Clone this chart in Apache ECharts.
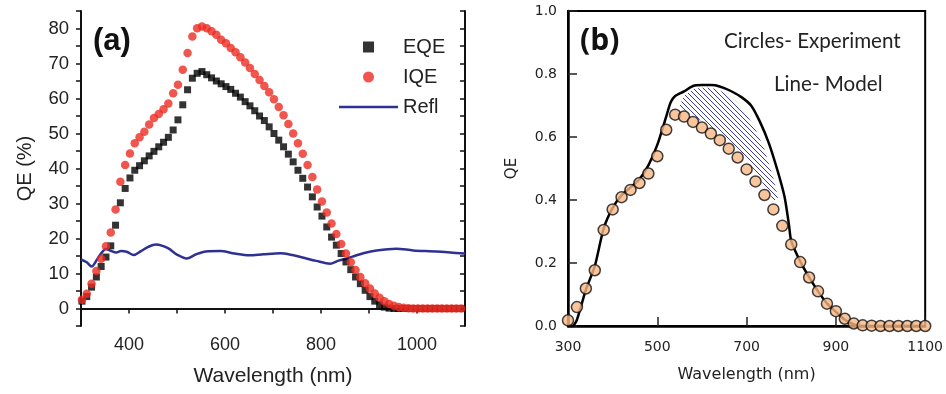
<!DOCTYPE html>
<html><head><meta charset="utf-8">
<script src="https://cdn.jsdelivr.net/npm/echarts@6/dist/echarts.min.js"></script>
<style>html,body{margin:0;padding:0;background:#fff}#c{width:946px;height:394px}</style>
</head><body><div id="c"></div>
<script>
// ---------- Panel (a) ----------
const wavelengthA = [302,312,322,332,342,352,362,372,382,392,402,412,422,432,442,452,462,472,482,492,
  502,512,522,532,542,552,562,572,582,592,602,612,622,632,642,652,662,672,682,692,
  702,712,722,732,742,752,762,772,782,792,802,812,822,832,842,852,862,872,882,892,
  902,912,922,932,942,952,962,972,982,992,1002,1012,1022,1032,1042,1052,1062,1072,1082,1092];
const eqe = [2.1,3.4,6.1,9.0,12.0,14.7,17.9,23.8,30.2,34.3,
  37.3,39.5,40.8,42.2,43.6,44.9,46.2,47.5,48.9,51.0,
  53.9,58.2,62.5,65.8,67.2,67.7,66.8,65.9,65.0,64.2,
  63.4,62.6,61.5,60.4,59.1,57.9,56.5,55.0,53.7,51.9,
  50.0,48.1,46.2,44.1,41.9,39.5,37.2,34.7,31.9,29.0,
  26.4,23.3,20.4,18.1,15.7,13.3,11.1,9.0,7.1,5.2,
  3.4,2.1,1.1,0.4,0.1,0,0,0,0,0,
  0,0,0,0,0,0,0,0,0,0];
const iqe = [2.5,4.2,7.1,10.7,14.2,17.8,21.7,28.3,36.2,41.0,
  44.3,47.2,48.9,50.5,52.6,54.4,55.6,56.9,58.6,61.5,
  63.9,68.2,73.0,77.7,80.1,80.6,80.1,79.2,78.2,76.8,
  75.8,74.4,73.2,71.8,70.3,68.7,67.0,65.3,63.6,61.8,
  59.8,57.6,55.2,52.7,50.0,47.2,44.2,41.0,37.6,34.0,
  30.6,27.4,24.3,21.3,18.4,15.7,13.2,11.0,9.0,7.2,
  5.7,4.3,3.1,2.1,1.3,0.8,0.4,0.2,0.1,0,
  0,0,0,0,0,0,0,0,0,0];
const reflX = [300,312,322,337,352,362,373,383,395,410,425,440,456,470,483,500,520,540,560,590,620,650,680,715,740,764,790,819,835,854,870,888,916,957,992,1040,1100];
const reflY = [14.0,13.2,12.0,14.8,17.0,16.5,16.0,16.4,16.2,15.3,16.4,17.6,18.3,17.9,17.1,15.4,14.3,15.5,16.3,16.4,15.7,15.2,15.5,15.8,15.3,14.5,13.6,12.8,13.6,14.3,15.0,15.8,16.6,17.1,16.6,16.3,15.7];
const xLabelsA = [400,600,800,1000];
const yLabelsA = [0,10,20,30,40,50,60,70,80];

// ---------- Panel (b) ----------
const circX = [300,320,340,360,380,400,420,440,460,480,500,520,540,560,580,600,620,640,660,680,
  700,720,740,760,780,800,820,840,860,880,900,920,940,960,980,1000,1020,1040,1060,1080,1100];
const circY = [0.018,0.060,0.119,0.177,0.305,0.370,0.409,0.432,0.454,0.484,0.539,0.623,0.671,0.665,0.648,0.630,0.611,0.590,0.563,0.535,
  0.497,0.459,0.416,0.370,0.318,0.259,0.203,0.154,0.110,0.071,0.047,0.023,0.008,0.002,0.001,0,0,0,0,0,0];
const modelX = [300,310,320,340,360,380,400,420,440,460,480,500,520,530,540,560,580,600,620,630,650,670,690,710,730,750,770,785,795,800,820,840,860,880,900,920,940,960,1000,1100];
const modelY = [0,0,0.02,0.115,0.19,0.31,0.375,0.415,0.44,0.466,0.51,0.575,0.665,0.71,0.73,0.745,0.762,0.765,0.765,0.764,0.755,0.742,0.725,0.70,0.648,0.58,0.49,0.41,0.32,0.27,0.205,0.155,0.11,0.072,0.045,0.02,0.005,0,0,0];
const hatchX = [550,560,580,600,620,640,660,680,700,720,740,760,770];
const hatchHigh = [0.70,0.73,0.752,0.756,0.756,0.748,0.733,0.708,0.672,0.625,0.56,0.47,0.41];
const hatchLow = [0.69,0.685,0.668,0.65,0.632,0.612,0.588,0.56,0.525,0.49,0.445,0.40,0.40];
const xLabelsB = [300,500,700,900,1100];

const FA = 'Liberation Sans, Arial, sans-serif';
const FB = 'DejaVu Sans, Verdana, sans-serif';

// hatch pattern
const pc = document.createElement('canvas'); pc.width = 5; pc.height = 5;
const pctx = pc.getContext('2d');
pctx.strokeStyle = '#3a3aa6'; pctx.lineWidth = 1;
pctx.beginPath();
pctx.moveTo(0,0); pctx.lineTo(5,5);
pctx.moveTo(-1,4); pctx.lineTo(1,6);
pctx.moveTo(4,-1); pctx.lineTo(6,1);
pctx.stroke();

const zip = (xs, ys) => xs.map((x,i)=>[x, ys[i]]);
const chart = echarts.init(document.getElementById('c'), null, {renderer:'canvas'});

const axA = {color:'#111', width:2};
const option = {
  animation:false,
  backgroundColor:'#fff',
  grid:[
    {left:81, top:11, width:384, height:315},
    {left:568, top:11, width:363, height:315, show:true, borderColor:'#000', borderWidth:2, backgroundColor:'transparent'}
  ],
  legend:{
    left:334, top:31, orient:'vertical', itemWidth:59, itemHeight:11, itemGap:8,
    textStyle:{fontFamily:FA, fontSize:20, color:'#222', lineHeight:22},
    data:[
      {name:'EQE', icon:'path://M0,0L10,0L10,10L0,10Z'},
      {name:'IQE', icon:'circle'},
      {name:'Refl', icon:'path://M0,0L100,0L100,4.2L0,4.2Z'}
    ]
  },
  xAxis:[
    {gridIndex:0, type:'value', min:300, max:1100, interval:100, position:'bottom',
      axisLine:{lineStyle:axA}, axisTick:{inside:false, length:5, lineStyle:{color:'#111', width:1.5}},
      axisLabel:{margin:10, fontSize:18, fontFamily:FA, color:'#222', formatter:v=>xLabelsA.includes(v)?String(v):''},
      splitLine:{show:false},
      name:'Wavelength (nm)', nameLocation:'middle', nameGap:40, nameTextStyle:{fontSize:21, fontFamily:FA, color:'#222'}},
    {gridIndex:0, type:'value', min:300, max:1100, interval:100, position:'top',
      axisLine:{lineStyle:axA}, axisTick:{inside:true, length:5, lineStyle:{color:'#111', width:1.5}},
      axisLabel:{show:false}, splitLine:{show:false}},
    {gridIndex:1, type:'value', min:300, max:1100, interval:200, position:'bottom',
      axisLine:{lineStyle:{color:'#000', width:2.5}}, axisTick:{inside:true, length:9, lineStyle:{color:'#222', width:1.5}},
      axisLabel:{margin:14, fontSize:14, fontFamily:FB, color:'#222', formatter:v=>xLabelsB.includes(v)?String(v):''},
      splitLine:{show:false},
      name:'Wavelength (nm)', nameLocation:'middle', nameGap:41, nameTextStyle:{fontSize:16, fontFamily:FB, color:'#222'}}
  ],
  yAxis:[
    {gridIndex:0, type:'value', min:-5, max:85, interval:5,
      axisLine:{show:true, lineStyle:axA}, axisTick:{show:true, inside:false, length:5, lineStyle:{color:'#111', width:1.5}},
      axisLabel:{margin:12, fontSize:18.5, fontFamily:FA, color:'#222', formatter:v=>yLabelsA.includes(v)?String(v):''},
      splitLine:{show:false},
      name:'QE (%)', nameLocation:'middle', nameGap:46, nameTextStyle:{fontSize:20, fontFamily:FA, color:'#222'}},
    {gridIndex:0, type:'value', min:-5, max:85, interval:5, position:'right',
      axisLine:{show:true, lineStyle:axA}, axisTick:{show:true, inside:true, length:5, lineStyle:{color:'#111', width:1.5}},
      axisLabel:{show:false}, splitLine:{show:false}},
    {gridIndex:1, type:'value', min:0, max:1, interval:0.2,
      axisLine:{show:true, lineStyle:{color:'#000', width:2.5}}, axisTick:{show:true, inside:true, length:9, lineStyle:{color:'#222', width:1.5}},
      axisLabel:{margin:11, fontSize:14, fontFamily:FB, color:'#222', formatter:v=>v.toFixed(1)},
      splitLine:{show:false},
      name:'QE', nameLocation:'middle', nameGap:48, nameTextStyle:{fontSize:15, fontFamily:FB, color:'#222'}}
  ],
  graphic:[
    {type:'text', left:93, top:26, style:{text:'(a)', font:'bold 31px '+FA, fill:'#111'}},
    {type:'text', left:580, top:26, style:{text:'(b)', font:'bold 30px Open Sans, sans-serif', fill:'#111'}},
    {type:'text', left:724, top:31, style:{text:'Circles- Experiment', font:'20.6px Lato, sans-serif', fill:'#222'}},
    {type:'text', left:774, top:74, style:{text:'Line- Model', font:'20.6px Lato, sans-serif', fill:'#222'}}
  ],
  series:[
    {name:'Refl', type:'line', xAxisIndex:0, yAxisIndex:0, data:zip(reflX, reflY), smooth:0.3, showSymbol:false, symbol:'none',
      lineStyle:{color:'#2e3192', width:2.5}, itemStyle:{color:'#2e3192'}, z:2},
    {name:'EQE', type:'scatter', xAxisIndex:0, yAxisIndex:0, data:zip(wavelengthA, eqe), symbol:'rect', symbolSize:7,
      itemStyle:{color:'#000'}, z:3},
    {name:'IQE', type:'scatter', xAxisIndex:0, yAxisIndex:0, data:zip(wavelengthA, iqe), symbol:'circle', symbolSize:8.5,
      itemStyle:{color:'#ec2a22'}, z:4},
    {name:'hatch', type:'custom', xAxisIndex:2, yAxisIndex:2, data:[[hatchX[0], hatchHigh[0]]], z:2, silent:true,
      renderItem:(params, api)=>{
        const pts = [];
        for (let i=0;i<hatchX.length;i++) pts.push(api.coord([hatchX[i], hatchHigh[i]]));
        for (let i=hatchX.length-1;i>=0;i--) pts.push(api.coord([hatchX[i], hatchLow[i]]));
        return {type:'polygon', shape:{points:pts}, style:{fill:{image:pc, repeat:'repeat'}, stroke:null}};
      }},
    {name:'Model', type:'line', xAxisIndex:2, yAxisIndex:2, data:zip(modelX, modelY), smooth:0.25, showSymbol:false, symbol:'none',
      lineStyle:{color:'#000', width:2.5}, z:3},
    {name:'Experiment', type:'scatter', xAxisIndex:2, yAxisIndex:2, data:zip(circX, circY), symbol:'circle', symbolSize:11, clip:false,
      itemStyle:{color:'#f7b683', borderColor:'#111', borderWidth:1.5}, z:4}
  ]
};
chart.setOption(option);
</script>
</body></html>
